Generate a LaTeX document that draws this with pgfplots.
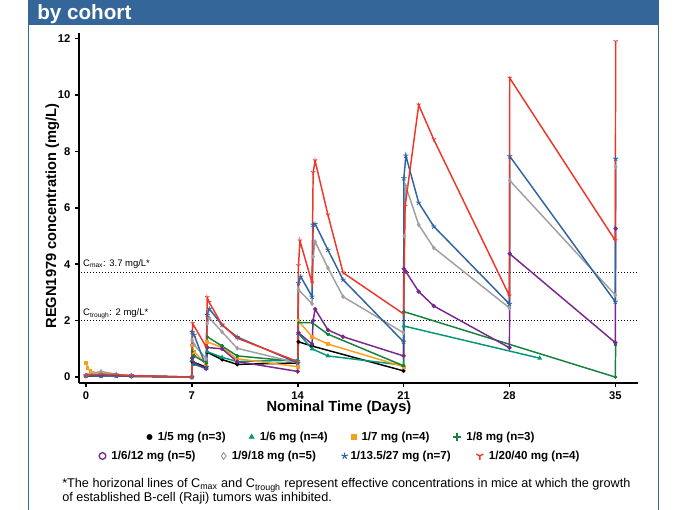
\documentclass[border=0pt]{standalone}
\usepackage{fontspec}
\setmainfont{Liberation Sans}
\usepackage{pgfplots}
\pgfplotsset{compat=1.18}
\usetikzlibrary{plotmarks}
\definecolor{hdr}{RGB}{52,102,153}
\definecolor{cteal}{RGB}{0,150,118}
\definecolor{corange}{RGB}{247,160,27}
\definecolor{cdkgreen}{RGB}{20,130,60}
\definecolor{cpurple}{RGB}{120,40,140}
\definecolor{cgray}{RGB}{160,160,160}
\definecolor{cblue}{RGB}{46,100,160}
\definecolor{cred}{RGB}{238,55,40}
\begin{document}
\begin{tikzpicture}
\path[use as bounding box] (0,0) rectangle (511.5pt,382.5pt);
\fill[hdr] (21pt,363.75pt) rectangle (494.25pt,382.5pt);
\node[anchor=base west, text=white, font=\bfseries\fontsize{15.5}{18}\selectfont, inner sep=0] at (27.75pt,367.5pt) {by cohort};
\draw[hdr, line width=0.75pt] (21.4pt,0) -- (21.4pt,363.75pt);
\draw[hdr, line width=0.75pt] (493.9pt,0) -- (493.9pt,363.75pt);

\begin{axis}[at={(59.25pt,95.25pt)}, anchor=south west, scale only axis,
  width=419.25pt, height=262.5pt,
  xmin=-0.46, xmax=36.5, ymin=-0.21, ymax=12.2,
  axis x line*=bottom, axis y line*=left,
  axis line style={line width=1.5pt,-},
  xtick={0,7,14,21,28,35}, ytick={0,2,4,6,8,10,12},
  tick align=outside, major tick length=3pt,
  tick style={line width=1.2pt,black},
  /pgf/number format/assume math mode=true,
  tick label style={font=\bfseries\fontsize{8.4}{9}\selectfont},
  xlabel={Nominal Time (Days)},
  xlabel style={at={(axis description cs:0.465,-0.0714)}, anchor=center, font=\bfseries\fontsize{11}{13}\selectfont},
  ylabel={REGN1979 concentration (mg/L)},
  ylabel style={at={(axis description cs:-0.0268,0.477)}, anchor=south, font=\bfseries\fontsize{11}{13}\selectfont},
  clip=false,
  every axis plot/.append style={line width=1.1pt, forget plot},
]
\addplot[black, line width=0.6pt, dash pattern=on 0.75pt off 1.5pt] coordinates {(-0.3,3.7) (36.5,3.7)};
\addplot[black, line width=0.6pt, dash pattern=on 0.75pt off 1.5pt] coordinates {(-0.3,2) (36.5,2)};
\node[anchor=base west, font=\fontsize{7.1}{9}\selectfont, inner sep=0] at (axis cs:-0.2,3.92) {C\textsubscript{max}: 3.7 mg/L*};
\node[anchor=base west, font=\fontsize{7.1}{9}\selectfont, inner sep=0] at (axis cs:-0.2,2.17) {C\textsubscript{trough}: 2 mg/L*};

% 1/5 mg
\addplot[black, mark=*, mark size=0.9pt] coordinates {
(0,0.03) (1,0.05) (2,0.05) (3,0.03) (7,0) (7.02,0.55) (7.95,0.35) (8.02,0.88) (9,0.62) (10,0.45) (14,0.5) (14.05,1.25) (14.95,1.1) (21,0.22)};
% 1/6 mg
\addplot[cteal, mark=triangle*, mark size=1pt] coordinates {
(0,0.05) (1,0.05) (2,0.05) (3,0.03) (7,0) (7.02,0.6) (7.15,0.45) (7.95,0.3) (8.02,0.9) (9,0.7) (10,0.55) (14,0.6) (14.05,1.55) (14.95,1.0) (16,0.75) (21,0.42) (21.02,1.81) (30,0.67)};
% 1/7 mg
\addplot[corange, mark=square*, mark size=0.9pt] coordinates {
(0,0.5) (0.1,0.32) (0.3,0.2) (1,0.13) (2,0.08) (3,0.05) (7,0) (7.02,1.12) (7.15,0.9) (7.95,0.45) (8.02,1.25) (9,1.05) (10,0.65) (14,0.37) (14.05,1.99) (14.95,1.43) (16,1.17) (21,0.37)};
% 1/8 mg
\addplot[cdkgreen, mark=+, mark size=1.2pt] coordinates {
(0,0.05) (1,0.05) (2,0.05) (3,0.03) (7,0) (7.02,0.9) (7.15,0.75) (7.95,0.5) (8.02,1.43) (9,1.1) (10,0.75) (14,0.55) (14.05,1.93) (14.95,1.93) (16,1.52) (21,0.4) (21.02,2.32) (35,0.0) (35.02,1.13)};
% 1/6/12 mg
\addplot[cpurple, mark=o, mark size=1pt] coordinates {
(0,0.05) (1,0.05) (2,0.05) (3,0.03) (7,0) (7.02,0.67) (7.15,0.5) (7.95,0.3) (8.02,1.05) (9,1.0) (10,0.55) (14,0.2) (14.05,1.57) (14.95,1.17) (15.02,2.0) (15.15,2.41) (16,1.67) (17,1.43) (21,0.75) (21.02,3.84) (21.15,3.74) (22,3.03) (23,2.52) (28,1.04) (28.02,4.37) (35,1.22) (35.02,5.26)};
% 1/9/18 mg
\addplot[cgray, mark=diamond, mark size=1pt] coordinates {
(0,0.05) (0.08,0.08) (1,0.2) (2,0.1) (3,0.05) (7,0) (7.02,1.3) (7.15,1.15) (7.95,0.65) (8.02,1.9) (8.15,2.1) (9,1.6) (10,1.02) (14,0.5) (14.05,3.1) (14.95,2.6) (15.02,4.27) (15.15,4.8) (16,3.87) (17,2.85) (21,1.57) (21.05,5.0) (21.15,6.76) (22,5.4) (23,4.58) (28,2.45) (28.02,6.97) (35,2.91) (35.02,7.45)};
% 1/13.5/27 mg
\addplot[cblue, mark=star, mark size=2pt, mark options={line width=0.6pt}] coordinates {
(0,0.05) (1,0.05) (2,0.05) (3,0.05) (7,0) (7.02,1.6) (7.15,1.5) (7.95,0.35) (8.02,2.2) (8.15,2.42) (9,1.85) (10,1.42) (14,0.5) (14.05,3.33) (14.2,3.56) (14.95,2.85) (15.02,5.4) (15.15,5.43) (16,4.51) (17,3.45) (21,1.25) (21.02,7.05) (21.15,7.85) (22,6.18) (23,5.34) (28,2.59) (28.02,7.83) (35,2.67) (35.02,7.74)};
% 1/20/40 mg
\addplot[cred, mark=Mercedes star flipped, mark size=1.8pt, mark options={line width=0.6pt}] coordinates {
(0,0.05) (0.08,0.08) (1,0.1) (2,0.08) (3,0.05) (7,0) (7.05,1.9) (7.95,1.07) (8.02,2.82) (8.15,2.65) (9,1.85) (10,1.38) (14,0.55) (14.05,3.95) (14.15,4.83) (14.95,3.34) (15.02,7.25) (15.15,7.67) (16,5.75) (17,3.7) (21,2.24) (21.1,6.05) (22,9.65) (23,8.42) (28,2.88) (28.02,10.6) (35,4.84) (35.02,11.9)};
\end{axis}

% legend row 1
\begin{axis}[at={(256.5pt,54.75pt)}, anchor=center, hide axis, scale only axis,
  width=10pt, height=10pt, xmin=0, xmax=1, ymin=0, ymax=1,
  legend columns=4,
  legend style={at={(0.5,0.5)}, anchor=center, draw=none, fill=none,
    font=\bfseries\fontsize{8.7}{10}\selectfont,
    /tikz/every even column/.append style={column sep=15.5pt}},
  legend cell align=left]
\addlegendimage{only marks, mark=*, black, mark size=2pt}
\addlegendentry{\hspace{2.2pt}1/5 mg (n=3)}
\addlegendimage{only marks, mark=triangle*, cteal, mark size=2.2pt}
\addlegendentry{\hspace{2.2pt}1/6 mg (n=4)}
\addlegendimage{only marks, mark=square*, corange, mark size=1.8pt}
\addlegendentry{\hspace{2.2pt}1/7 mg (n=4)}
\addlegendimage{only marks, mark=+, cdkgreen, mark size=3pt, line width=1pt}
\addlegendentry{\hspace{2.2pt}1/8 mg (n=3)}
\end{axis}

% legend row 2
\begin{axis}[at={(255.5pt,40.5pt)}, anchor=center, hide axis, scale only axis,
  width=10pt, height=10pt, xmin=0, xmax=1, ymin=0, ymax=1,
  legend columns=4,
  legend style={at={(0.5,0.5)}, anchor=center, draw=none, fill=none,
    font=\bfseries\fontsize{8.7}{10}\selectfont,
    /tikz/every even column/.append style={column sep=17.2pt}},
  legend cell align=left]
\addlegendimage{only marks, mark=o, cpurple, mark size=2.5pt, line width=1pt}
\addlegendentry{\hspace{2.2pt}1/6/12 mg (n=5)}
\addlegendimage{only marks, mark=diamond, cgray, mark size=2.5pt, line width=0.8pt}
\addlegendentry{\hspace{2.2pt}1/9/18 mg (n=5)}
\addlegendimage{only marks, mark=star, cblue, mark size=2.5pt, line width=0.8pt}
\addlegendentry{1/13.5/27 mg (n=7)}
\addlegendimage{only marks, mark=Mercedes star flipped, cred, mark size=3pt, line width=1pt}
\addlegendentry{\hspace{2.2pt}1/20/40 mg (n=4)}
\end{axis}

\node[anchor=base west, inner sep=0, font=\fontsize{9.5}{11}\selectfont] at (46.5pt,16.5pt) {*The horizonal lines of C\textsubscript{max} and C\textsubscript{trough} represent effective concentrations in mice at which the growth};
\node[anchor=base west, inner sep=0, font=\fontsize{9.5}{11}\selectfont] at (46.5pt,6.3pt) {of established B-cell (Raji) tumors was inhibited.};
\end{tikzpicture}
\end{document}
